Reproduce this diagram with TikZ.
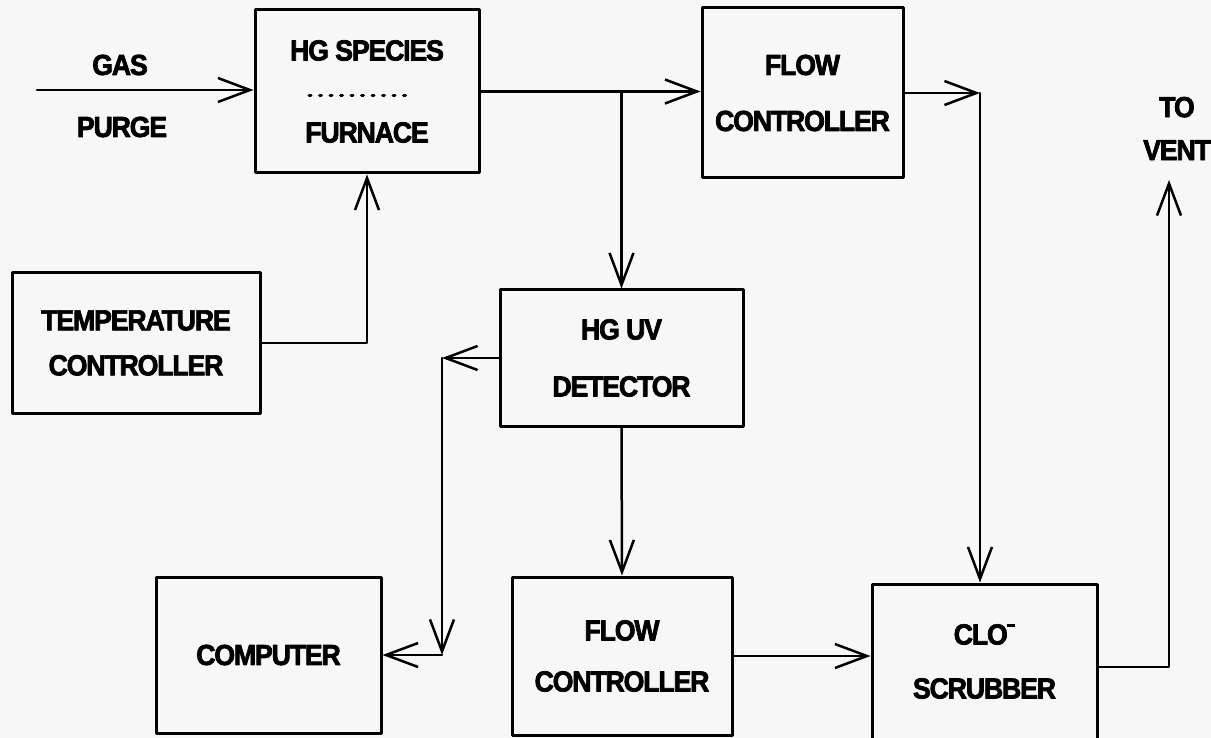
\documentclass[tikz,border=0pt]{standalone}
\usepackage{fontspec}
\setmainfont{Liberation Sans}[FakeStretch=0.92,LetterSpace=-4,FakeBold=2.5]
\usetikzlibrary{arrows.meta}
\begin{document}
\begin{tikzpicture}[x=1pt,y=-1pt,line cap=round,line join=round,
  unit/.style={draw,line width=3pt,align=center,inner sep=0pt,
    font=\bfseries\fontsize{29}{56}\selectfont},
  tagtext/.style={font=\bfseries\fontsize{29}{30}\selectfont,align=center},
  pipe/.style={line width=2.5pt},
  flow/.style={pipe,-{Straight Barb[length=32pt,width=24pt]}}]
\fill[black!3] (0,0) rectangle (1211,738);
\useasboundingbox (0,0) rectangle (1211,738);
\node[unit,minimum width=224pt,minimum height=163pt] (hg) at (367,91.5)
  {HG SPECIES\\[26pt]FURNACE};
\draw[line width=3pt,dash pattern=on 2pt off 8.5pt]
  ([shift={(-58,4.5)}]hg.center) -- ([shift={(46,4.5)}]hg.center);
\node[unit,minimum width=201pt,minimum height=170pt] (fctop) at (802.5,93)
  {FLOW\\CONTROLLER};
\node[unit,minimum width=248pt,minimum height=140pt] (temp) at (136,343)
  {TEMPERATURE\\[-11pt]CONTROLLER};
\node[unit,minimum width=243pt,minimum height=136pt] (det) at (621.5,358)
  {HG UV\\[1pt]DETECTOR};
\node[unit,minimum width=225pt,minimum height=156pt] (comp) at (268.5,655)
  {COMPUTER};
\node[unit,minimum width=220pt,minimum height=158pt] (fcbot) at (622,656)
  {FLOW\\[-5pt]CONTROLLER};
\node[unit,minimum width=225pt,minimum height=155pt] (scrub) at (984.5,661.5)
  {CLO\kern-0.04em\raisebox{0.6em}{\rule{0.3em}{0.09em}}\\[-2pt]SCRUBBER};
\node[tagtext] (gas) at (120,65) {GAS};
\node[tagtext] (purge) at (122,127) {PURGE};
\node[tagtext] (vent) at (1177,128.5) {TO\\[13pt]VENT};
\coordinate (gasin) at (37,90);
\coordinate (turn) at (980,93);
\coordinate (bendA) at (442,358);
\coordinate (ventA) at (1169,667);
\coordinate (ventB) at (1169,180);
\draw[flow] (gasin) -- (hg.west |- gasin);
\draw[flow] (hg.east) -- (fctop.west |- hg.east);
\draw[flow] (hg.east -| det.north) -- (det.north);
\draw[flow] (fctop.east) -- (turn);
\draw[flow] (turn) -- (turn |- scrub.north);
\draw[flow] (temp.east) -- (temp.east -| hg.south) -- (hg.south);
\draw[flow] (det.west) -- (bendA);
\draw[flow] (bendA) -- (bendA |- comp.east);
\draw[flow] (bendA |- comp.east) -- (comp.east);
\draw[flow] (det.south) -- (fcbot.north);
\draw[flow] (fcbot.east) -- (scrub.west |- fcbot.east);
\draw[flow] (scrub.east |- ventA) -- (ventA) -- (ventB);
\end{tikzpicture}
\end{document}
